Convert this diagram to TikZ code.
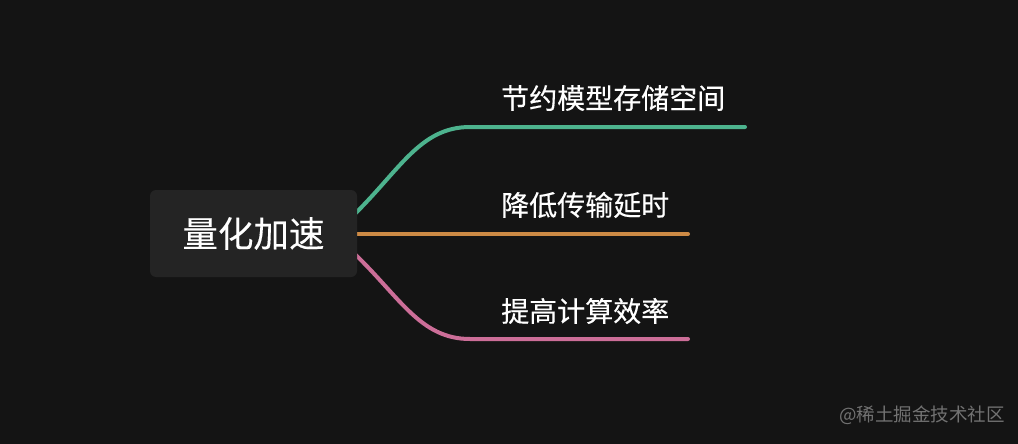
\documentclass[tikz,border=0pt]{standalone}
\usepackage{fontspec}
\setmainfont{Noto Sans CJK SC}
\newfontfamily\labelfont{Noto Sans CJK SC}[FakeBold=0.3]
\usetikzlibrary{positioning}
\definecolor{bgdark}{HTML}{141414}
\definecolor{rootfill}{HTML}{242424}
\definecolor{brgreen}{HTML}{4DB38E}
\definecolor{brorange}{HTML}{CD8A45}
\definecolor{brpink}{HTML}{CC6E98}
\pgfdeclarelayer{bg}
\pgfdeclarelayer{branches}
\pgfsetlayers{bg,branches,main}

\begin{document}
\begin{tikzpicture}[x=1pt, y=-1pt,
  root/.style={fill=rootfill, rounded corners=6pt, minimum width=207pt, minimum height=87pt, text=white, font=\labelfont\fontsize{35.5}{40}\selectfont},
  leaf/.style={anchor=west, inner sep=0pt, text=white, font=\labelfont\fontsize{28}{32}\selectfont},
  branch/.style={line width=4pt, line cap=round}]
\begin{pgfonlayer}{bg}
\fill[bgdark] (0,0) rectangle (1018,444);
\end{pgfonlayer}
\useasboundingbox (0,0) rectangle (1018,444);
\node[root] (root) at (253.5,233.5) {量化加速};
\node[leaf] (save) at (501,98) {节约模型存储空间};
\node[leaf] (lat) at (501,205) {降低传输延时};
\node[leaf] (eff) at (501,311) {提高计算效率};
\coordinate (save-end) at (745,127);
\coordinate (lat-end) at (688,234);
\coordinate (eff-end) at (688,339);
% branches
\begin{pgfonlayer}{branches}
\draw[branch, brgreen] ([xshift=-4pt, yshift=18pt]root.east) .. controls (400,170) and (420,127) .. (470,127) -- (save-end);
\draw[branch, brorange] ([xshift=-4pt, yshift=-0.5pt]root.east) -- (lat-end);
\draw[branch, brpink] ([xshift=-4pt, yshift=-19pt]root.east) .. controls (400,297) and (420,339) .. (470,339) -- (eff-end);
\end{pgfonlayer}
\node[anchor=east, inner sep=0pt, text=white!40!bgdark, font=\fontsize{18.5}{20}\selectfont] (mark) at (1005,415) {@稀土掘金技术社区};
\end{tikzpicture}
\end{document}
